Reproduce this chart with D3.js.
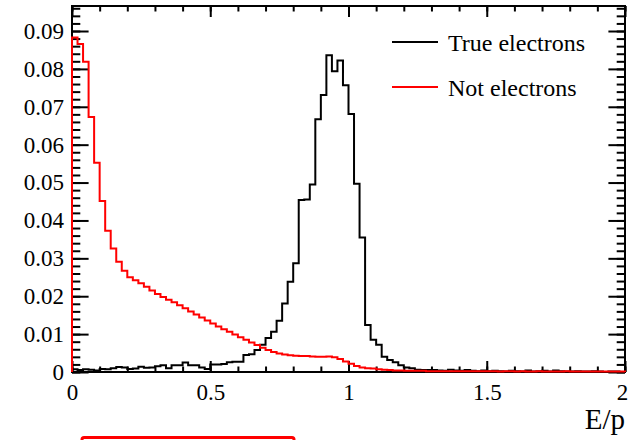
<!DOCTYPE html>
<html>
<head>
<meta charset="utf-8">
<script src="https://cdn.jsdelivr.net/npm/d3@7"></script>
<style>
body { margin: 0; background: #fff; }
svg { display: block; }
</style>
</head>
<body>
<div class="main"></div>
<script>
// histogram settings and contents (100 bins on 0..2)
var xRange = [0, 2];
var nBins = 100;

var trueElectrons = [
    0.0007, 0.0005, 0.0007, 0.0006, 0.0004, 0.0008, 0.0007, 0.0010, 0.0013, 0.0012,
    0.0008, 0.0009, 0.0014, 0.0011, 0.0012, 0.0015, 0.0018, 0.0010, 0.0018, 0.0018,
    0.0025, 0.0018, 0.0018, 0.0012, 0.0008, 0.0020, 0.0020, 0.0021, 0.0026, 0.0027,
    0.0027, 0.0045, 0.0047, 0.0058, 0.0072, 0.0090, 0.0106, 0.0135, 0.0181, 0.0238,
    0.0287, 0.0454, 0.0455, 0.0495, 0.0667, 0.0731, 0.0836, 0.0794, 0.0822, 0.0757,
    0.0681, 0.0497, 0.0355, 0.0124, 0.0085, 0.0072, 0.0040, 0.0032, 0.0026, 0.0018,
    0.0012, 0.0010, 0.0006, 0.0005, 0.0005, 0.0005, 0.0004, 0.0003, 0.0006, 0.0004,
    0.0003, 0.0005, 0.0003, 0.0002, 0.0004, 0.0002, 0.0003, 0.0002, 0.0001, 0.0003,
    0.0002, 0.0001, 0.0004, 0.0001, 0.0002, 0.0003, 0.0001, 0.0004, 0.0002, 0.0001,
    0.0001, 0.0002, 0.0001, 0.0001, 0.0002, 0.0001, 0.0000, 0.0001, 0.0001, 0.0000
];

var notElectrons = [
    0.0883, 0.0866, 0.0819, 0.0673, 0.0552, 0.0451, 0.0373, 0.0326, 0.0291, 0.0267,
    0.0250, 0.0242, 0.0234, 0.0225, 0.0215, 0.0206, 0.0198, 0.0191, 0.0184, 0.0176,
    0.0168, 0.0160, 0.0152, 0.0144, 0.0136, 0.0128, 0.0120, 0.0113, 0.0106, 0.0099,
    0.0092, 0.0085, 0.0078, 0.0071, 0.0064, 0.0058, 0.0053, 0.0049, 0.0046, 0.0044,
    0.0043, 0.0042, 0.0042, 0.0041, 0.0040, 0.0040, 0.0041, 0.0039, 0.0034, 0.0028,
    0.0022, 0.0016, 0.0012, 0.0010, 0.0009, 0.0007, 0.0006, 0.0005, 0.0004, 0.0004,
    0.0003, 0.0003, 0.0003, 0.0003, 0.0002, 0.0002, 0.0002, 0.0002, 0.0002, 0.0002,
    0.0002, 0.0002, 0.0002, 0.0002, 0.0002, 0.0002, 0.0002, 0.0001, 0.0002, 0.0002,
    0.0001, 0.0002, 0.0001, 0.0001, 0.0002, 0.0001, 0.0001, 0.0001, 0.0001, 0.0002,
    0.0001, 0.0001, 0.0001, 0.0001, 0.0001, 0.0001, 0.0001, 0.0001, 0.0001, 0.0001
];

var xMajor = [0, 0.5, 1, 1.5, 2];
var xLabels = ['0', '0.5', '1', '1.5', '2'];
var yMax = 0.0966;
var yMajor = [0, 0.01, 0.02, 0.03, 0.04, 0.05, 0.06, 0.07, 0.08, 0.09];
var yLabels = ['0', '0.01', '0.02', '0.03', '0.04', '0.05', '0.06', '0.07', '0.08', '0.09'];
var legendNames = ['True electrons', 'Not electrons'];
var colors = ['#000000', '#ff0000'];
var xTitle = 'E/p';

var font = '"Liberation Serif", "Times New Roman", serif';

var svg = d3.select('.main')
    .append('svg')
    .attr('width', 629)
    .attr('height', 440);

svg.append('rect')
    .attr('width', 629)
    .attr('height', 440)
    .style('fill', '#fff');

var x = d3.scaleLinear().domain(xRange).range([72, 625]);
var y = d3.scaleLinear().domain([0, yMax]).range([372, 6]);

var xMinor = d3.range(0, 2.0001, 0.1);
var yMinor = d3.range(0, yMax, 0.002);

function styleAxis(g) {
    g.select('.domain').remove();
    g.selectAll('line').attr('stroke', '#000').attr('stroke-width', 2);
    g.selectAll('text')
        .attr('font-family', font)
        .attr('font-size', 23)
        .attr('fill', '#000');
}

// bottom
svg.append('g')
    .attr('transform', 'translate(0,372)')
    .call(d3.axisBottom(x).tickValues(xMinor).tickSize(-5.5).tickFormat(''))
    .call(styleAxis);
var xAxisG = svg.append('g')
    .attr('transform', 'translate(0,372)')
    .call(d3.axisBottom(x).tickValues(xMajor).tickSize(-11).tickPadding(12)
        .tickFormat(function (d, i) { return xLabels[i]; }))
    .call(styleAxis);
// keep the last label inside the page like ROOT does
xAxisG.selectAll('text')
    .attr('dx', function (d) { return d === xRange[1] ? -3 : 0; });

// top
svg.append('g')
    .attr('transform', 'translate(0,6)')
    .call(d3.axisTop(x).tickValues(xMinor).tickSize(-5.5).tickFormat(''))
    .call(styleAxis);
svg.append('g')
    .attr('transform', 'translate(0,6)')
    .call(d3.axisTop(x).tickValues(xMajor).tickSize(-11).tickFormat(''))
    .call(styleAxis);

// left
svg.append('g')
    .attr('transform', 'translate(72,0)')
    .call(d3.axisLeft(y).tickValues(yMinor).tickSize(-8.3).tickFormat(''))
    .call(styleAxis);
svg.append('g')
    .attr('transform', 'translate(72,0)')
    .call(d3.axisLeft(y).tickValues(yMajor).tickSize(-16.6).tickPadding(8)
        .tickFormat(function (d, i) { return yLabels[i]; }))
    .call(styleAxis);

// right
svg.append('g')
    .attr('transform', 'translate(625,0)')
    .call(d3.axisRight(y).tickValues(yMinor).tickSize(-8.3).tickFormat(''))
    .call(styleAxis);
svg.append('g')
    .attr('transform', 'translate(625,0)')
    .call(d3.axisRight(y).tickValues(yMajor).tickSize(-16.6).tickFormat(''))
    .call(styleAxis);

// frame
svg.append('rect')
    .attr('x', x(xRange[0]))
    .attr('y', y(yMax))
    .attr('width', x(xRange[1]) - x(xRange[0]))
    .attr('height', y(0) - y(yMax))
    .style('fill', 'none')
    .style('stroke', '#000')
    .style('stroke-width', 2);

// histograms as step outlines
var binW = (xRange[1] - xRange[0]) / nBins;
function stepPoints(vals) {
    var pts = [[xRange[0], 0]];
    vals.forEach(function (v, i) {
        pts.push([xRange[0] + i * binW, v]);
        pts.push([xRange[0] + (i + 1) * binW, v]);
    });
    pts.push([xRange[1], 0]);
    return pts;
}
var line = d3.line()
    .x(function (d) { return x(d[0]); })
    .y(function (d) { return y(d[1]); });

svg.selectAll('.hist')
    .data([trueElectrons, notElectrons])
    .enter()
    .append('path')
    .attr('class', 'hist')
    .attr('d', function (d) { return line(stepPoints(d)); })
    .style('fill', 'none')
    .style('stroke', function (d, i) { return colors[i]; })
    .style('stroke-width', 2)
    .style('stroke-linejoin', 'miter');

// legend
var legend = svg.selectAll('.legend')
    .data(legendNames)
    .enter()
    .append('g')
    .attr('class', 'legend')
    .attr('transform', function (d, i) {
        return 'translate(' + [392, 42 + i * 45] + ')';
    });

legend.append('line')
    .attr('x1', 0)
    .attr('x2', 46)
    .attr('y1', 0)
    .attr('y2', 0)
    .style('stroke', function (d, i) { return colors[i]; })
    .style('stroke-width', 2);

legend.append('text')
    .attr('x', 56)
    .attr('y', 9)
    .attr('font-family', font)
    .attr('font-size', 24)
    .text(function (d) { return d; });

// axis title
svg.append('text')
    .attr('x', 625)
    .attr('y', 429)
    .attr('text-anchor', 'end')
    .attr('font-family', font)
    .attr('font-size', 29)
    .text(xTitle);

// red box cut off at the bottom edge
svg.append('rect')
    .attr('x', 82)
    .attr('y', 437.5)
    .attr('width', 212)
    .attr('height', 20)
    .attr('rx', 2)
    .style('fill', 'none')
    .style('stroke', '#ff0000')
    .style('stroke-width', 3);
</script>
</body>
</html>
